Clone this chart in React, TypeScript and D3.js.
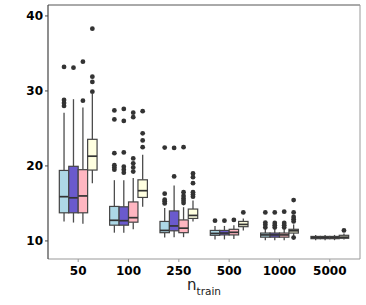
import React from 'react';
import * as d3 from 'd3';

// groups on the x axis (training set size)
const groups = ['50', '100', '250', '500', '1000', '5000'];
const yTicks = [10, 20, 30, 40];

// [lower whisker, q1, median, q3, upper whisker] per group
const statsA = [
    [12.6, 13.75, 15.9, 19.4, 27.1],
    [11.1, 12.1, 12.75, 14.6, 18.1],
    [10.45, 11.1, 11.4, 12.6, 14.4],
    [10.2, 10.75, 11.0, 11.4, 12.0],
    [10.1, 10.5, 10.8, 11.05, 11.7],
    [10.1, 10.3, 10.45, 10.6, 10.8],
];
const statsB = [
    [12.45, 13.75, 15.75, 19.95, 28.9],
    [11.1, 12.1, 12.7, 14.55, 18.1],
    [10.5, 11.35, 12.0, 14.0, 17.4],
    [10.2, 10.8, 11.05, 11.4, 12.0],
    [10.1, 10.5, 10.8, 11.05, 11.7],
    [10.1, 10.3, 10.45, 10.6, 10.8],
];
const statsC = [
    [12.3, 13.75, 16.0, 19.5, 27.8],
    [11.55, 12.5, 13.1, 15.2, 18.4],
    [10.5, 11.1, 11.7, 12.8, 14.5],
    [10.25, 10.8, 11.15, 11.55, 12.1],
    [10.1, 10.5, 10.8, 11.05, 11.7],
    [10.1, 10.3, 10.45, 10.6, 10.8],
];
const statsD = [
    [17.7, 19.45, 21.3, 23.55, 29.6],
    [14.55, 15.8, 16.7, 18.15, 21.5],
    [12.6, 13.0, 13.4, 14.25, 15.4],
    [11.4, 11.9, 12.2, 12.6, 13.0],
    [10.55, 11.05, 11.35, 11.55, 12.2],
    [10.2, 10.35, 10.5, 10.75, 11.0],
];

// outliers per group
const outA = [
    [28.0, 28.4, 28.8, 33.2],
    [19.5, 19.8, 20.1, 21.7, 26.2, 27.4],
    [15.0, 15.3, 15.5, 16.3, 22.45],
    [12.7],
    [11.8, 12.15, 12.45, 13.8],
    [],
];
const outB = [
    [33.1],
    [19.1, 19.5, 19.9, 21.8, 26.0, 27.6],
    [18.6, 22.4],
    [12.7],
    [11.8, 12.1, 12.4, 13.8],
    [],
];
const outC = [
    [28.7, 33.9],
    [19.25, 19.8, 20.35, 21.0, 26.5, 27.1],
    [15.05, 15.35, 15.65, 16.0, 16.5, 22.5],
    [12.8],
    [11.8, 12.1, 12.4, 13.9],
    [],
];
const outD = [
    [29.9, 31.2, 31.9, 38.3],
    [22.5, 23.4, 24.35, 27.3],
    [15.9, 16.2, 16.5, 17.7, 18.5, 19.0],
    [13.8],
    [10.45, 12.6, 12.9, 13.2, 13.8, 15.45],
    [11.4],
];

const series = [
    { stats: statsA, outliers: outA, fill: '#ADD8E6' },
    { stats: statsB, outliers: outB, fill: '#6A5ACD' },
    { stats: statsC, outliers: outC, fill: '#FFB6C1' },
    { stats: statsD, outliers: outD, fill: '#FFFFE0' },
];

const W = 366;
const H = 305;
const left = 48, right = 360, top = 5, bottom = 259;
const font = "'DejaVu Sans', sans-serif";

const App: React.FC = () => {
    const x = d3.scalePoint<string>().domain(groups).range([left, right]).padding(0.6);
    const y = d3.scaleLinear().domain([7.59, 41.46]).range([bottom, top]);

    const slot = (x.step() * 0.75) / series.length;
    const bw = slot;

    return (
        <svg width={W} height={H} style={{ position: 'absolute', left: 0, top: 0, background: '#fff' }}>
            {series.map((s, j) =>
                groups.map((g, i) => {
                    const [lo, q1, med, q3, hi] = s.stats[i];
                    const cx = (x(g) as number) + (j - (series.length - 1) / 2) * slot;
                    return (
                        <g key={`${j}-${g}`}>
                            <line x1={cx} x2={cx} y1={y(hi)} y2={y(q3)} stroke="#4d4d4d" strokeWidth={1.3} />
                            <line x1={cx} x2={cx} y1={y(q1)} y2={y(lo)} stroke="#4d4d4d" strokeWidth={1.3} />
                            <rect x={cx - bw / 2} y={y(q3)} width={bw} height={y(q1) - y(q3)}
                                fill={s.fill} stroke="#444" strokeWidth={1.2} />
                            <line x1={cx - bw / 2} x2={cx + bw / 2} y1={y(med)} y2={y(med)} stroke="#333" strokeWidth={1.7} />
                            {s.outliers[i].map((v, k) => (
                                <circle key={k} cx={cx} cy={y(v)} r={2.4} fill="#333" />
                            ))}
                        </g>
                    );
                })
            )}

            {/* panel border */}
            <line x1={left} x2={right} y1={top} y2={top} stroke="#555" strokeWidth={1} />
            <line x1={right} x2={right} y1={top} y2={bottom} stroke="#999" strokeWidth={1} />
            <line x1={left} x2={right} y1={bottom} y2={bottom} stroke="#999" strokeWidth={1.2} />
            <line x1={left} x2={left} y1={top} y2={bottom} stroke="#444" strokeWidth={1.2} />

            {yTicks.map(t => (
                <g key={t}>
                    <line x1={left - 3} x2={left} y1={y(t)} y2={y(t)} stroke="#444" strokeWidth={1} />
                    <text x={left - 5} y={y(t)} dy="0.36em" textAnchor="end" fontFamily={font}
                        fontWeight="bold" fontSize={12} fill="#000">{t}</text>
                </g>
            ))}

            {groups.map(g => (
                <g key={g}>
                    <line x1={x(g)} x2={x(g)} y1={bottom} y2={bottom + 3} stroke="#999" strokeWidth={1} />
                    <text x={x(g)} y={275} textAnchor="middle" fontFamily={font}
                        fontWeight="bold" fontSize={12} fill="#000">{g}</text>
                </g>
            ))}

            <text x={187} y={290} fontFamily={font} fontSize={15} fill="#222">
                n<tspan dy={5} fontSize={10.5}>train</tspan>
            </text>
        </svg>
    );
};

export default App;
